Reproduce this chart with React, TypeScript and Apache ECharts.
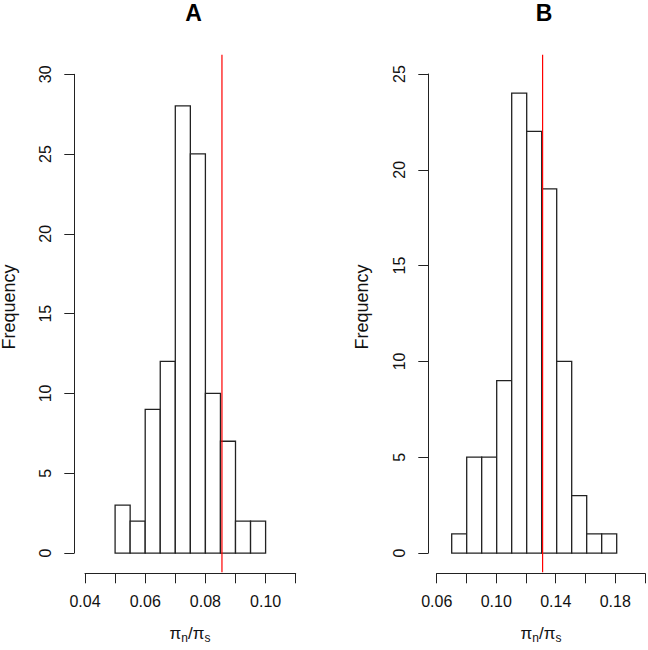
import React, { useEffect, useRef } from "react";
import * as echarts from "echarts";

// Panel A histogram
const binEdgesA = [0.05, 0.055, 0.06, 0.065, 0.07, 0.075, 0.08, 0.085, 0.09, 0.095, 0.1];
const countsA = [3, 2, 9, 12, 28, 25, 10, 7, 2, 2];
const refLineA = [0.0855];
const xTicksA = { min: 0.04, max: 0.11, interval: 0.01 };
const yTicksA = { min: 0, max: 30, interval: 5 };

// Panel B histogram
const binEdgesB = [0.07, 0.08, 0.09, 0.1, 0.11, 0.12, 0.13, 0.14, 0.15, 0.16, 0.17, 0.18];
const countsB = [1, 5, 5, 9, 24, 22, 19, 10, 3, 1, 1];
const refLineB = [0.1306];
const xTicksB = { min: 0.06, max: 0.2, interval: 0.02 };
const yTicksB = { min: 0, max: 25, interval: 5 };

const titles = ["A", "B"];
const yLabel = "Frequency";

const FONT = "'Liberation Sans', Arial, Helvetica, sans-serif";

function histData(edges: number[], counts: number[]) {
  return counts.map((c, i) => [edges[i], edges[i + 1], c]);
}

function renderBar(params: any, api: any) {
  const x0 = api.value(0);
  const x1 = api.value(1);
  const c = api.value(2);
  const p0 = api.coord([x0, c]);
  const p1 = api.coord([x1, 0]);
  return {
    type: "rect",
    shape: { x: p0[0], y: p0[1], width: p1[0] - p0[0], height: p1[1] - p0[1] },
    style: { fill: "#ffffff", stroke: "#222222", lineWidth: 1.3 },
  };
}

function renderVLine(params: any, api: any) {
  const v = api.value(0);
  const cs = params.coordSys;
  const p = api.coord([v, 0]);
  return {
    type: "line",
    shape: { x1: p[0], y1: cs.y, x2: p[0], y2: cs.y + cs.height },
    style: { stroke: "#ff0000", lineWidth: 1.2 },
  };
}

export default function App() {
  const ref = useRef<HTMLDivElement>(null);
  useEffect(() => {
    if (!ref.current) return;
    const chart = echarts.init(ref.current, null, { renderer: "svg" });

    const axisLineStyle = { color: "#222", width: 1 };
    const hiddenAxis = (gridIndex: number, min: number, max: number) => ({
      gridIndex,
      type: "value",
      min,
      max,
      show: false,
    });

    const xLabelFmt = (min: number, interval: number) => (v: number) => {
      const idx = Math.round((v - min) / interval);
      return idx % 2 === 0 ? v.toFixed(2) : "";
    };

    const xAxisVisible = (gridIndex: number, t: any) => ({
      gridIndex,
      type: "value",
      position: "bottom",
      min: t.min,
      max: t.max,
      interval: t.interval,
      axisLine: { show: true, lineStyle: axisLineStyle },
      axisTick: { show: true, length: 10, lineStyle: axisLineStyle },
      splitLine: { show: false },
      axisLabel: {
        show: true,
        margin: 20,
        color: "#111",
        fontSize: 16,
        fontFamily: FONT,
        formatter: xLabelFmt(t.min, t.interval),
        showMinLabel: true,
        showMaxLabel: true,
      },
    });

    const yAxisVisible = (gridIndex: number, t: any) => ({
      gridIndex,
      type: "value",
      position: "left",
      min: t.min,
      max: t.max,
      interval: t.interval,
      axisLine: { show: true, lineStyle: axisLineStyle },
      axisTick: { show: true, length: 10, lineStyle: axisLineStyle },
      splitLine: { show: false },
      axisLabel: {
        show: true,
        rotate: 90,
        margin: 21,
        color: "#111",
        fontSize: 16,
        fontFamily: FONT,
      },
    });

    const axisTitle = (cx: number) => ({
      type: "text",
      x: cx,
      y: 633,
      style: {
        text: "{m|π}{s|n}{m|/π}{s|s}",
        align: "center",
        verticalAlign: "middle",
        fill: "#111",
        fontFamily: FONT,
        rich: {
          m: { fontSize: 17, fontFamily: FONT, fill: "#111" },
          s: { fontSize: 12, fontFamily: FONT, fill: "#111", padding: [9, 0, 0, 0] },
        },
      },
    });

    const freqText = (x: number) => ({
      type: "text",
      x,
      y: 307,
      rotation: Math.PI / 2,
      style: {
        text: yLabel,
        align: "center",
        verticalAlign: "middle",
        font: `18px ${FONT}`,
        fill: "#111",
      },
    });

    const titleText = (x: number, t: string) => ({
      type: "text",
      x,
      y: 13,
      style: {
        text: t,
        align: "center",
        verticalAlign: "middle",
        font: `bold 23px ${FONT}`,
        fill: "#000",
      },
    });

    const option: any = {
      animation: false,
      backgroundColor: "#ffffff",
      grid: [
        { left: 85, top: 54.8, width: 210.7, height: 517.4 }, // A data
        { left: 85, top: 563.3, width: 210.7, height: 10 }, // A x axis
        { left: 74.3, top: 74.3, width: 10, height: 478.7 }, // A y axis
        { left: 436.7, top: 54.8, width: 210, height: 517.4 }, // B data
        { left: 436.7, top: 563.3, width: 210, height: 10 }, // B x axis
        { left: 428.3, top: 74, width: 10, height: 479 }, // B y axis
      ],
      xAxis: [
        hiddenAxis(0, xTicksA.min, xTicksA.max),
        xAxisVisible(1, xTicksA),
        hiddenAxis(2, 0, 1),
        hiddenAxis(3, xTicksB.min, xTicksB.max),
        xAxisVisible(4, xTicksB),
        hiddenAxis(5, 0, 1),
      ],
      yAxis: [
        hiddenAxis(0, -0.04 * yTicksA.max, yTicksA.max * 1.04),
        hiddenAxis(1, 0, 1),
        yAxisVisible(2, yTicksA),
        hiddenAxis(3, -0.04 * yTicksB.max, yTicksB.max * 1.04),
        hiddenAxis(4, 0, 1),
        yAxisVisible(5, yTicksB),
      ],
      series: [
        {
          type: "custom",
          xAxisIndex: 0,
          yAxisIndex: 0,
          renderItem: renderBar,
          encode: { x: [0, 1], y: 2 },
          data: histData(binEdgesA, countsA),
          clip: false,
          z: 2,
        },
        {
          type: "custom",
          xAxisIndex: 0,
          yAxisIndex: 0,
          renderItem: renderVLine,
          encode: { x: 0 },
          data: refLineA.map((v) => [v]),
          clip: false,
          z: 3,
        },
        {
          type: "custom",
          xAxisIndex: 3,
          yAxisIndex: 3,
          renderItem: renderBar,
          encode: { x: [0, 1], y: 2 },
          data: histData(binEdgesB, countsB),
          clip: false,
          z: 2,
        },
        {
          type: "custom",
          xAxisIndex: 3,
          yAxisIndex: 3,
          renderItem: renderVLine,
          encode: { x: 0 },
          data: refLineB.map((v) => [v]),
          clip: false,
          z: 3,
        },
      ],
      graphic: [
        titleText(193.5, titles[0]),
        titleText(544, titles[1]),
        freqText(9),
        freqText(362),
        axisTitle(190),
        axisTitle(541),
      ],
    };
    chart.setOption(option);
    return () => chart.dispose();
  }, []);
  return (
    <div
      ref={ref}
      style={{ position: "fixed", left: 0, top: 0, width: 648, height: 650, background: "#fff" }}
    />
  );
}
